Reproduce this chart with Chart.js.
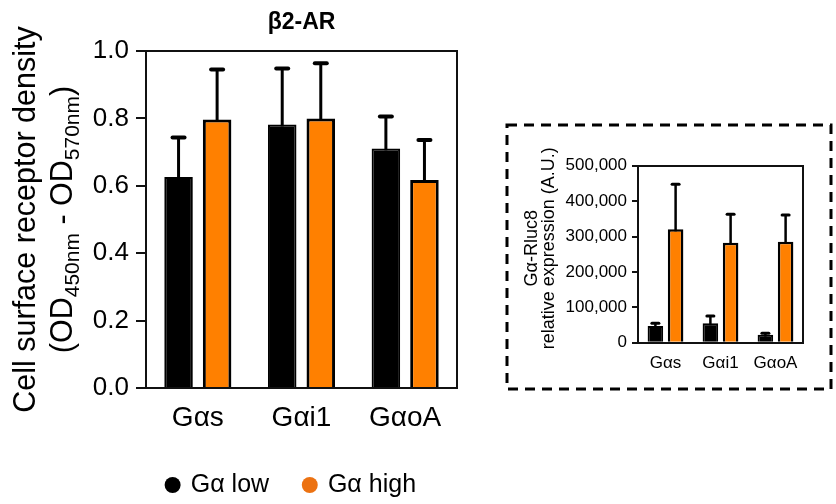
<!DOCTYPE html>
<html>
<head>
<meta charset="utf-8">
<script src="https://cdn.jsdelivr.net/npm/chart.js@4.4.1/dist/chart.umd.min.js"></script>
<style>
  html, body { margin: 0; padding: 0; background: #fff; overflow: hidden; }
  #wrap { position: relative; width: 836px; height: 504px; }
  #main { position: absolute; left: 0; top: 0; }
  #inset { position: absolute; left: 500px; top: 118px; }
</style>
</head>
<body>
<div id="wrap">
  <canvas id="main" width="480" height="504"></canvas>
  <canvas id="inset" width="336" height="276"></canvas>
</div>
<script>
// Categories and series
const categories = ['Gαs', 'Gαi1', 'GαoA'];
const seriesNames = ['Gα low', 'Gα high'];

// Cell surface receptor density (OD450nm - OD570nm), mean and upper error
const densityLow = [0.626, 0.782, 0.711];
const densityLowErr = [0.117, 0.166, 0.095];
const densityHigh = [0.797, 0.800, 0.617];
const densityHighErr = [0.148, 0.164, 0.119];
const densityTicks = [0, 0.2, 0.4, 0.6, 0.8, 1.0];

// Gα-Rluc8 relative expression (A.U.), mean and upper error
const expressionLow = [47200, 54800, 22600];
const expressionLowErr = [7600, 20600, 4000];
const expressionHigh = [320300, 282500, 285300];
const expressionHighErr = [127200, 80200, 75400];
const expressionTicks = [0, 100000, 200000, 300000, 400000, 500000];

const FONT = "'Liberation Sans', Arial, Helvetica, sans-serif";
Chart.defaults.font.family = FONT;
Chart.defaults.color = '#000';

const ORANGE = '#FF8000';
const ORANGE_LEGEND = '#EC7212';

function withCommas(v) {
  return String(v).replace(/\B(?=(\d{3})+(?!\d))/g, ',');
}

// Upward error bars with a flat cap
const errorBars = {
  id: 'errorBars',
  afterDatasetsDraw(chart, args, o) {
    const ctx = chart.ctx;
    const yScale = chart.scales.y;
    ctx.save();
    ctx.strokeStyle = '#000';
    chart.data.datasets.forEach((ds, i) => {
      const meta = chart.getDatasetMeta(i);
      meta.data.forEach((bar, j) => {
        const top = yScale.getPixelForValue(ds.data[j] + ds.errors[j]);
        ctx.lineWidth = o.lineWidth;
        ctx.lineCap = 'butt';
        ctx.beginPath();
        ctx.moveTo(bar.x, bar.y + 2);
        ctx.lineTo(bar.x, top);
        ctx.stroke();
        ctx.lineWidth = o.capThickness;
        ctx.lineCap = 'round';
        ctx.beginPath();
        ctx.moveTo(bar.x - o.capHalf, top);
        ctx.lineTo(bar.x + o.capHalf, top);
        ctx.stroke();
      });
    });
    ctx.restore();
  }
};

// Closed box around the plot area
const frame = {
  id: 'frame',
  afterDatasetsDraw(chart, args, o) {
    const a = chart.chartArea;
    const ctx = chart.ctx;
    ctx.save();
    ctx.strokeStyle = '#111';
    ctx.lineWidth = o.lineWidth;
    ctx.strokeRect(Math.round(a.left), Math.round(a.top), Math.round(a.right) - Math.round(a.left), Math.round(a.bottom) - Math.round(a.top));
    ctx.restore();
  }
};

// Rotated y-axis title, supports subscripts
const sideTitle = {
  id: 'sideTitle',
  afterDraw(chart, args, o) {
    const ctx = chart.ctx;
    const a = chart.chartArea;
    const cy = (a.top + a.bottom) / 2 + (o.dy || 0);
    ctx.save();
    ctx.fillStyle = '#000';
    ctx.textBaseline = 'alphabetic';
    ctx.textAlign = 'left';
    o.lines.forEach(line => {
      let total = 0;
      const parts = line.parts.map(p => {
        ctx.font = p.size + 'px ' + FONT;
        const w = ctx.measureText(p.text).width;
        total += w;
        return Object.assign({ w }, p);
      });
      ctx.save();
      ctx.translate(line.x, cy);
      ctx.rotate(-Math.PI / 2);
      let x = -total / 2;
      parts.forEach(p => {
        ctx.font = p.size + 'px ' + FONT;
        ctx.fillText(p.text, x, p.shift || 0);
        x += p.w;
      });
      ctx.restore();
    });
    ctx.restore();
  }
};

// Move the legend row under the plot centre
const legendNudge = {
  id: 'legendNudge',
  afterLayout(chart, args, o) {
    const lg = chart.legend;
    if (lg) {
      lg.top += o.dy; lg.bottom += o.dy;
      lg.left += o.dx; lg.right += o.dx;
    }
  }
};

// Dashed outline around the inset panel
const dashedBox = {
  id: 'dashedBox',
  afterDraw(chart, args, o) {
    const ctx = chart.ctx;
    ctx.save();
    ctx.strokeStyle = '#000';
    ctx.lineWidth = 3;
    ctx.setLineDash([10, 7]);
    ctx.strokeRect(o.x, o.y, o.w, o.h);
    ctx.restore();
  }
};

new Chart(document.getElementById('main'), {
  type: 'bar',
  data: {
    labels: categories,
    datasets: [
      { label: seriesNames[0], data: densityLow, errors: densityLowErr,
        backgroundColor: '#000', borderColor: '#000', borderWidth: 2 },
      { label: seriesNames[1], data: densityHigh, errors: densityHighErr,
        backgroundColor: ORANGE, borderColor: '#000', borderWidth: 3, legendColor: ORANGE_LEGEND }
    ]
  },
  options: {
    responsive: false,
    animation: false,
    devicePixelRatio: 1,
    layout: { padding: { left: 0, right: 23, top: 0, bottom: -14 } },
    datasets: { bar: { categoryPercentage: 0.744, barPercentage: 0.74 } },
    scales: {
      x: {
        grid: { display: false, drawTicks: false },
        border: { display: false },
        ticks: { font: { size: 28, lineHeight: 1.2 }, padding: 13.2, color: '#000' }
      },
      y: {
        min: 0, max: 1,
        afterBuildTicks(s) { s.ticks = densityTicks.map(v => ({ value: v })); },
        afterFit(s) { s.width = 146; },
        ticks: { callback: v => Number(v).toFixed(1), font: { size: 26 }, padding: 7, color: '#000' },
        grid: { drawOnChartArea: false, drawTicks: true, tickLength: 10, lineWidth: 2, color: '#111' },
        border: { display: false }
      }
    },
    plugins: {
      title: { display: true, text: 'β2-AR', fullSize: false, color: '#000',
               font: { size: 23, weight: 'bold' }, padding: { top: 9.2, bottom: 14.2 } },
      legend: {
        position: 'bottom',
        labels: {
          usePointStyle: true, pointStyle: 'circle',
          boxWidth: 11.3, boxHeight: 11.3, padding: 35,
          font: { size: 25 }, color: '#000',
          generateLabels(chart) {
            const items = Chart.defaults.plugins.legend.labels.generateLabels(chart);
            items.forEach((it, i) => {
              const ds = chart.data.datasets[i];
              it.fillStyle = ds.legendColor || ds.backgroundColor;
              it.strokeStyle = it.fillStyle;
              it.lineWidth = 0;
              it.pointStyle = 'circle';
            });
            return items;
          }
        }
      },
      legendNudge: { dx: 63, dy: -10.5 },
      tooltip: { enabled: false },
      errorBars: { lineWidth: 3, capThickness: 4, capHalf: 6 },
      frame: { lineWidth: 2 },
      sideTitle: {
        dy: 0,
        lines: [
          { x: 35, parts: [{ text: 'Cell surface receptor density', size: 30.5 }] },
          { x: 71.7, parts: [
            { text: '(OD', size: 30.5 },
            { text: '450nm', size: 21, shift: 7 },
            { text: ' - OD', size: 30.5 },
            { text: '570nm', size: 21, shift: 7 },
            { text: ')', size: 30.5 }
          ] }
        ]
      }
    }
  },
  plugins: [errorBars, frame, sideTitle, legendNudge]
});

new Chart(document.getElementById('inset'), {
  type: 'bar',
  data: {
    labels: categories,
    datasets: [
      { label: seriesNames[0], data: expressionLow, errors: expressionLowErr,
        backgroundColor: '#000', borderColor: '#000', borderWidth: 2 },
      { label: seriesNames[1], data: expressionHigh, errors: expressionHighErr,
        backgroundColor: ORANGE, borderColor: '#000', borderWidth: 2.5 }
    ]
  },
  options: {
    responsive: false,
    animation: false,
    devicePixelRatio: 1,
    layout: { padding: { left: 0, right: 33, top: 47.7, bottom: 9.3 } },
    datasets: { bar: { categoryPercentage: 0.735, barPercentage: 0.77 } },
    scales: {
      x: {
        grid: { display: false, drawTicks: false },
        border: { display: false },
        ticks: { font: { size: 17 }, padding: 10.8, color: '#000' }
      },
      y: {
        min: 0, max: 500000,
        afterBuildTicks(s) { s.ticks = expressionTicks.map(v => ({ value: v })); },
        afterFit(s) { s.width = 138; },
        ticks: { callback: v => withCommas(v), font: { size: 17 }, padding: 5, color: '#000' },
        grid: { drawOnChartArea: false, drawTicks: true, tickLength: 6, lineWidth: 2, color: '#111' },
        border: { display: false }
      }
    },
    plugins: {
      title: { display: false },
      legend: { display: false },
      tooltip: { enabled: false },
      errorBars: { lineWidth: 2.5, capThickness: 3, capHalf: 3.5 },
      frame: { lineWidth: 2 },
      sideTitle: {
        dy: -6,
        lines: [
          { x: 37, parts: [{ text: 'Gα-Rluc8', size: 18 }] },
          { x: 54, parts: [{ text: 'relative expression (A.U.)', size: 18 }] }
        ]
      },
      dashedBox: { x: 7, y: 7, w: 324, h: 264 }
    }
  },
  plugins: [errorBars, frame, sideTitle, dashedBox]
});
</script>
</body>
</html>
